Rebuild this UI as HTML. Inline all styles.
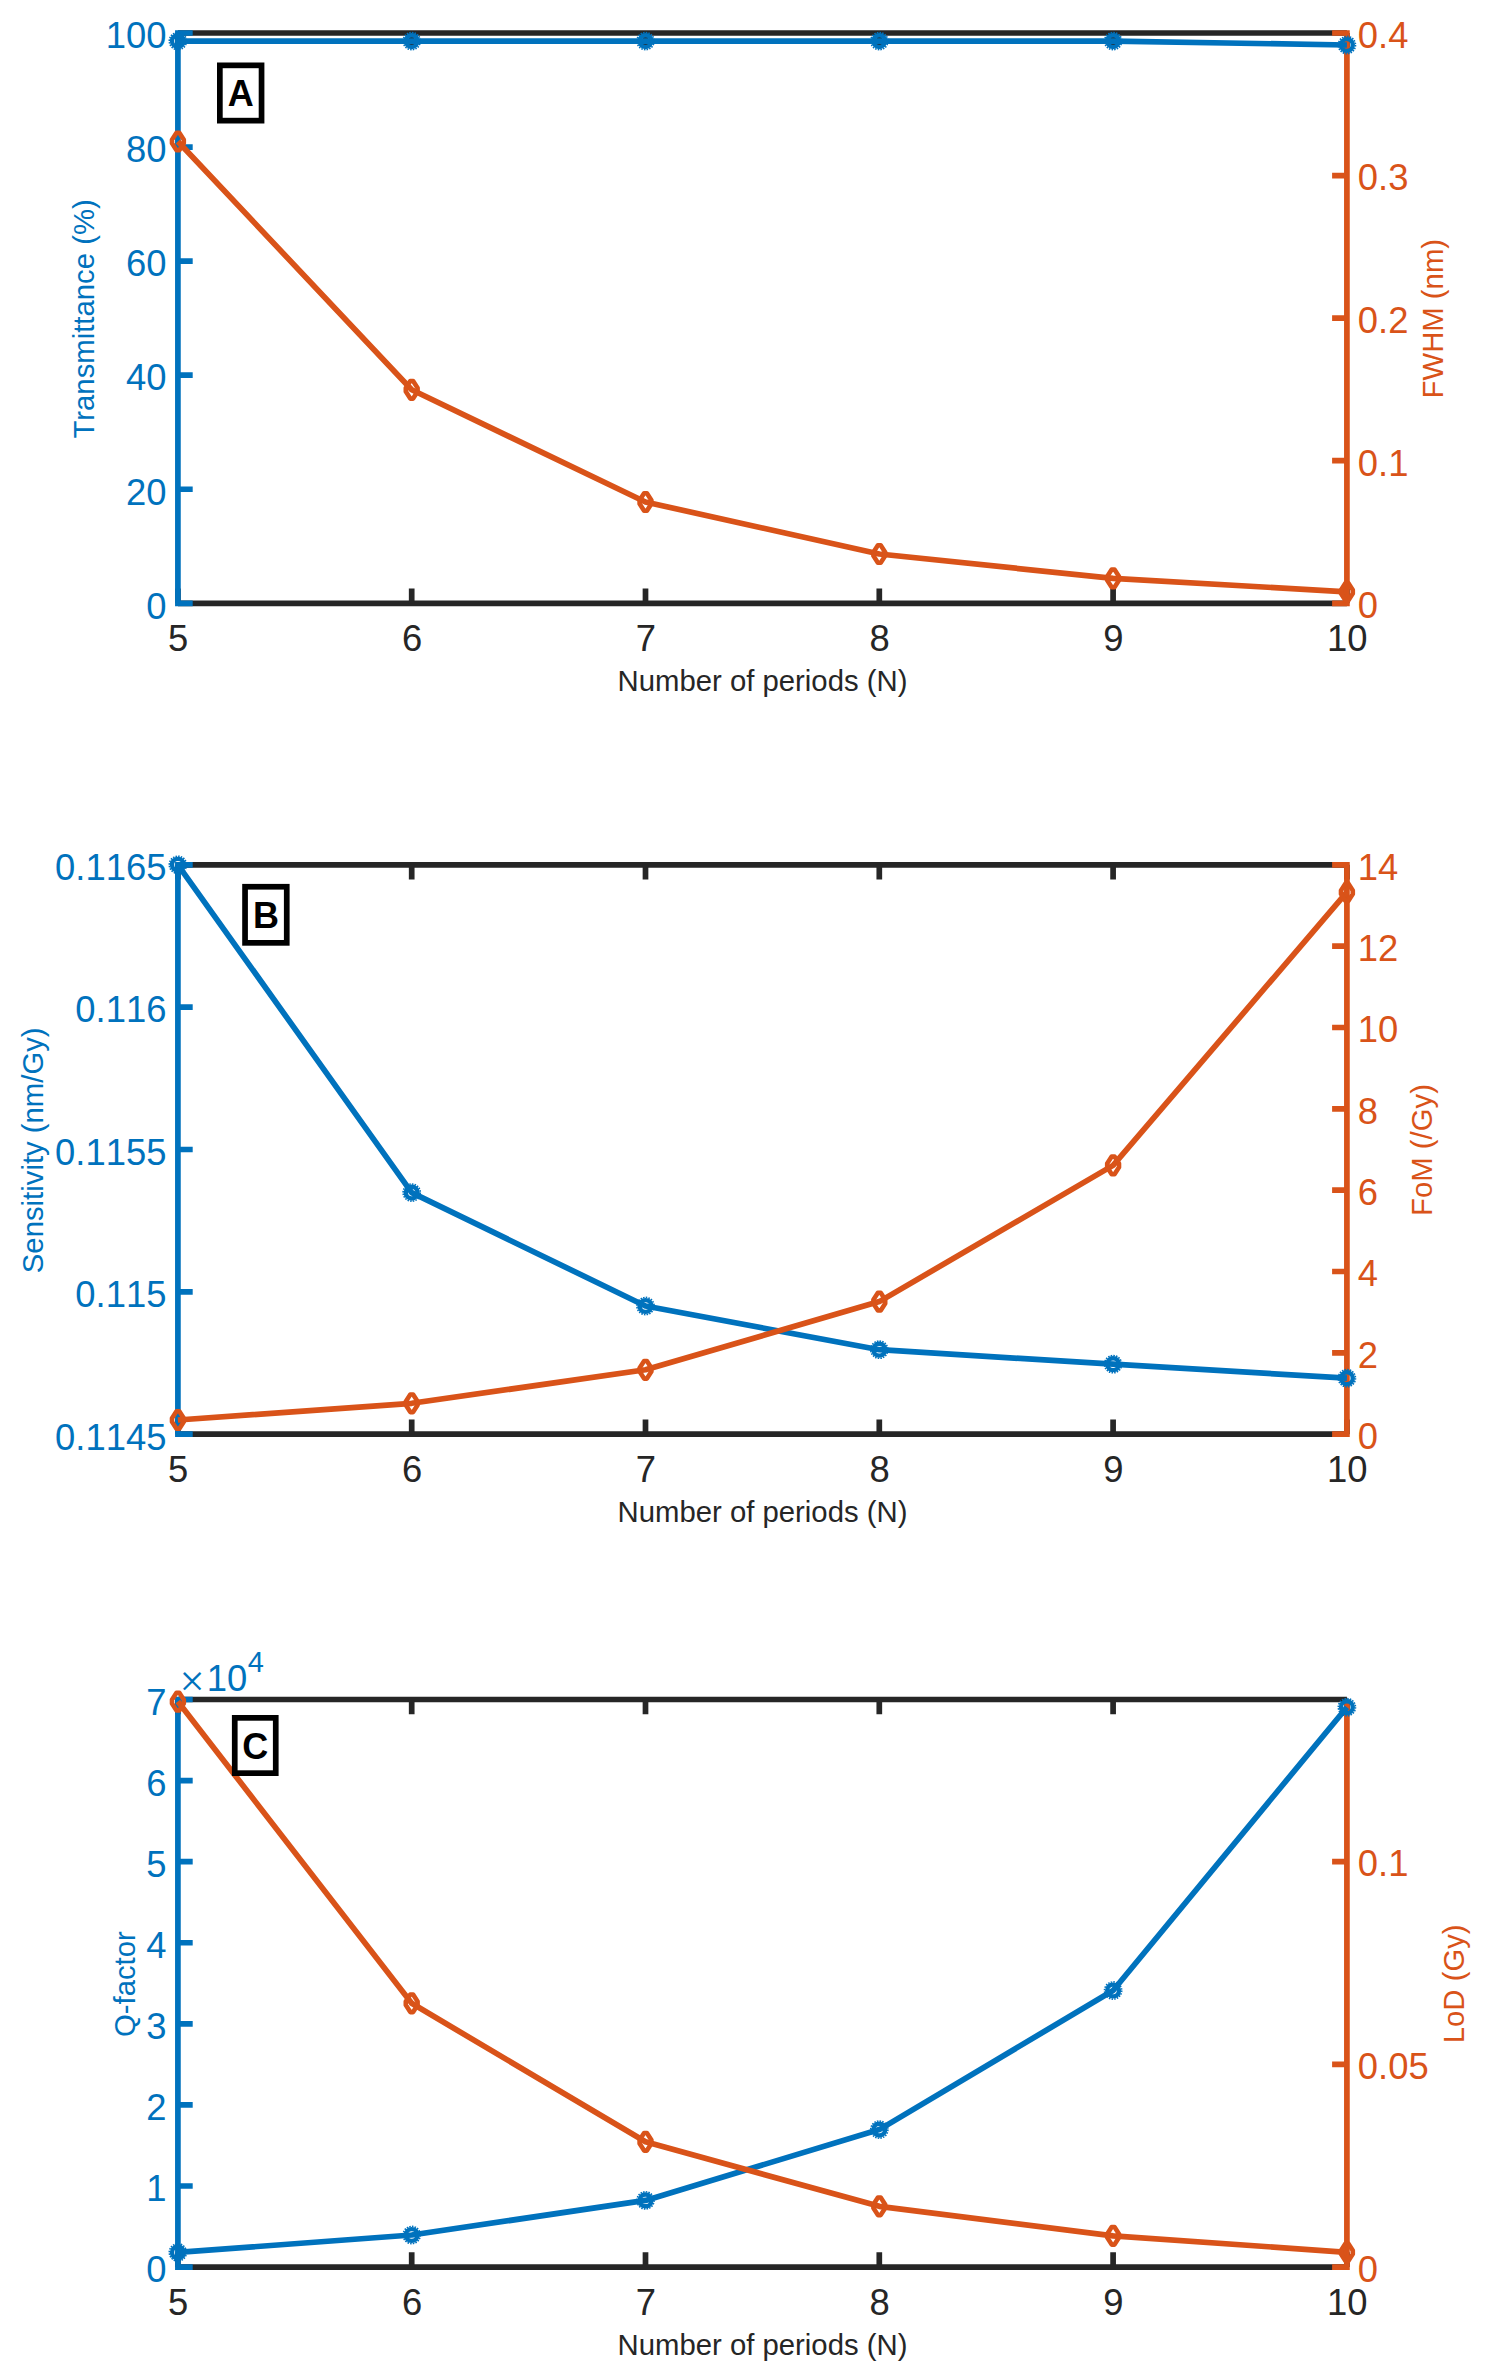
<!DOCTYPE html>
<html><head><meta charset="utf-8"><title>Figure</title>
<style>
html,body{margin:0;padding:0;background:#fff}
svg{display:block}
text{font-family:"Liberation Sans",Arial,Helvetica,sans-serif;font-kerning:none;font-variant-ligatures:none}
.tk{font-size:36.4px}
.lb{font-size:29.3px}
.bx{font-size:36px;font-weight:bold;fill:#000}
</style></head><body>
<svg width="1488" height="2362" viewBox="0 0 1488 2362">
<rect width="1488" height="2362" fill="#fff"/>
<g stroke="#262626" stroke-width="5.7" fill="none">
<path d="M177.9 33.0H1346.9M177.9 603.3H1346.9"/>
<path d="M177.9 603.3v-14.8M177.9 33.0v14.8M411.7 603.3v-14.8M411.7 33.0v14.8M645.5 603.3v-14.8M645.5 33.0v14.8M879.3 603.3v-14.8M879.3 33.0v14.8M1113.1 603.3v-14.8M1113.1 33.0v14.8M1346.9 603.3v-14.8M1346.9 33.0v14.8"/>
</g>
<path d="M177.9 30.15V606.15M177.9 603.3h14.8M177.9 489.24h14.8M177.9 375.18h14.8M177.9 261.12h14.8M177.9 147.06h14.8M177.9 33h14.8" stroke="#0072BD" stroke-width="5.7" fill="none"/>
<path d="M1346.9 30.15V606.15M1346.9 603.3h-14.8M1346.9 460.72h-14.8M1346.9 318.15h-14.8M1346.9 175.57h-14.8M1346.9 33h-14.8" stroke="#D95319" stroke-width="5.7" fill="none"/>
<g class="tk" fill="#0072BD" text-anchor="end">
<text x="166.4" y="618.6">0</text>
<text x="166.4" y="504.54">20</text>
<text x="166.4" y="390.48">40</text>
<text x="166.4" y="276.42">60</text>
<text x="166.4" y="162.36">80</text>
<text x="166.4" y="48.3">100</text>
</g>
<g class="tk" fill="#D95319">
<text x="1357.8" y="618.1">0</text>
<text x="1357.8" y="475.52">0.1</text>
<text x="1357.8" y="332.95">0.2</text>
<text x="1357.8" y="190.38">0.3</text>
<text x="1357.8" y="47.8">0.4</text>
</g>
<g class="tk" fill="#262626" text-anchor="middle">
<text x="178.2" y="651.3">5</text>
<text x="412" y="651.3">6</text>
<text x="645.8" y="651.3">7</text>
<text x="879.6" y="651.3">8</text>
<text x="1113.4" y="651.3">9</text>
<text x="1347.2" y="651.3">10</text>
</g>
<text class="lb" fill="#262626" text-anchor="middle" x="762.5" y="690.7">Number of periods (N)</text>
<text class="lb" fill="#0072BD" text-anchor="middle" transform="translate(94.4 318.95) rotate(-90)">Transmittance (%)</text>
<text class="lb" fill="#D95319" text-anchor="middle" transform="translate(1443 318.65) rotate(-90)">FWHM (nm)</text>
<path d="M177.9 41.1L411.7 41.1L645.5 41.1L879.3 41.1L1113.1 41.1L1346.9 45" stroke="#0072BD" stroke-width="5.7" fill="none" stroke-linejoin="round"/>
<circle cx="177.9" cy="41.1" r="5.9" fill="none" stroke="#0072BD" stroke-width="4.4"/><circle cx="177.9" cy="41.1" r="8.6" fill="none" stroke="#0072BD" stroke-width="1.6" stroke-dasharray="1.55 1.15"/>
<circle cx="411.7" cy="41.1" r="5.9" fill="none" stroke="#0072BD" stroke-width="4.4"/><circle cx="411.7" cy="41.1" r="8.6" fill="none" stroke="#0072BD" stroke-width="1.6" stroke-dasharray="1.55 1.15"/>
<circle cx="645.5" cy="41.1" r="5.9" fill="none" stroke="#0072BD" stroke-width="4.4"/><circle cx="645.5" cy="41.1" r="8.6" fill="none" stroke="#0072BD" stroke-width="1.6" stroke-dasharray="1.55 1.15"/>
<circle cx="879.3" cy="41.1" r="5.9" fill="none" stroke="#0072BD" stroke-width="4.4"/><circle cx="879.3" cy="41.1" r="8.6" fill="none" stroke="#0072BD" stroke-width="1.6" stroke-dasharray="1.55 1.15"/>
<circle cx="1113.1" cy="41.1" r="5.9" fill="none" stroke="#0072BD" stroke-width="4.4"/><circle cx="1113.1" cy="41.1" r="8.6" fill="none" stroke="#0072BD" stroke-width="1.6" stroke-dasharray="1.55 1.15"/>
<circle cx="1346.9" cy="45" r="5.9" fill="none" stroke="#0072BD" stroke-width="4.4"/><circle cx="1346.9" cy="45" r="8.6" fill="none" stroke="#0072BD" stroke-width="1.6" stroke-dasharray="1.55 1.15"/>
<path d="M177.9 141.5L411.7 389.8L645.5 502L879.3 554L1113.1 578.4L1346.9 591.8" stroke="#D95319" stroke-width="5.7" fill="none" stroke-linejoin="round"/>
<path d="M176.5 132.7L179.3 132.7L183.8 139.7L183.8 143.3L179.3 150.3L176.5 150.3L172 143.3L172 139.7Z" fill="none" stroke="#D95319" stroke-width="4.6" stroke-linejoin="round"/>
<path d="M410.3 381L413.1 381L417.6 388L417.6 391.6L413.1 398.6L410.3 398.6L405.8 391.6L405.8 388Z" fill="none" stroke="#D95319" stroke-width="4.6" stroke-linejoin="round"/>
<path d="M644.1 493.2L646.9 493.2L651.4 500.2L651.4 503.8L646.9 510.8L644.1 510.8L639.6 503.8L639.6 500.2Z" fill="none" stroke="#D95319" stroke-width="4.6" stroke-linejoin="round"/>
<path d="M877.9 545.2L880.7 545.2L885.2 552.2L885.2 555.8L880.7 562.8L877.9 562.8L873.4 555.8L873.4 552.2Z" fill="none" stroke="#D95319" stroke-width="4.6" stroke-linejoin="round"/>
<path d="M1111.7 569.6L1114.5 569.6L1119 576.6L1119 580.2L1114.5 587.2L1111.7 587.2L1107.2 580.2L1107.2 576.6Z" fill="none" stroke="#D95319" stroke-width="4.6" stroke-linejoin="round"/>
<path d="M1345.5 583L1348.3 583L1352.8 590L1352.8 593.6L1348.3 600.6L1345.5 600.6L1341 593.6L1341 590Z" fill="none" stroke="#D95319" stroke-width="4.6" stroke-linejoin="round"/>
<rect x="219.85" y="65.35" width="41.7" height="55.3" fill="#fff" stroke="#000" stroke-width="5.7"/>
<text class="bx" text-anchor="middle" x="240.7" y="106.4">A</text>
<g stroke="#262626" stroke-width="5.7" fill="none">
<path d="M177.9 864.8H1346.9M177.9 1434.2H1346.9"/>
<path d="M177.9 1434.2v-14.8M177.9 864.8v14.8M411.7 1434.2v-14.8M411.7 864.8v14.8M645.5 1434.2v-14.8M645.5 864.8v14.8M879.3 1434.2v-14.8M879.3 864.8v14.8M1113.1 1434.2v-14.8M1113.1 864.8v14.8M1346.9 1434.2v-14.8M1346.9 864.8v14.8"/>
</g>
<path d="M177.9 861.95V1437.05M177.9 1434.2h14.8M177.9 1291.85h14.8M177.9 1149.5h14.8M177.9 1007.15h14.8M177.9 864.8h14.8" stroke="#0072BD" stroke-width="5.7" fill="none"/>
<path d="M1346.9 861.95V1437.05M1346.9 1434.2h-14.8M1346.9 1352.86h-14.8M1346.9 1271.51h-14.8M1346.9 1190.17h-14.8M1346.9 1108.83h-14.8M1346.9 1027.49h-14.8M1346.9 946.14h-14.8M1346.9 864.8h-14.8" stroke="#D95319" stroke-width="5.7" fill="none"/>
<g class="tk" fill="#0072BD" text-anchor="end">
<text x="166.4" y="1449.5">0.1145</text>
<text x="166.4" y="1307.15">0.115</text>
<text x="166.4" y="1164.8">0.1155</text>
<text x="166.4" y="1022.45">0.116</text>
<text x="166.4" y="880.1">0.1165</text>
</g>
<g class="tk" fill="#D95319">
<text x="1357.8" y="1449">0</text>
<text x="1357.8" y="1367.66">2</text>
<text x="1357.8" y="1286.31">4</text>
<text x="1357.8" y="1204.97">6</text>
<text x="1357.8" y="1123.63">8</text>
<text x="1357.8" y="1042.29">10</text>
<text x="1357.8" y="960.94">12</text>
<text x="1357.8" y="879.6">14</text>
</g>
<g class="tk" fill="#262626" text-anchor="middle">
<text x="178.2" y="1482.2">5</text>
<text x="412" y="1482.2">6</text>
<text x="645.8" y="1482.2">7</text>
<text x="879.6" y="1482.2">8</text>
<text x="1113.4" y="1482.2">9</text>
<text x="1347.2" y="1482.2">10</text>
</g>
<text class="lb" fill="#262626" text-anchor="middle" x="762.5" y="1521.6">Number of periods (N)</text>
<text class="lb" fill="#0072BD" text-anchor="middle" transform="translate(43.2 1150.3) rotate(-90)">Sensitivity (nm/Gy)</text>
<text class="lb" fill="#D95319" text-anchor="middle" transform="translate(1432 1150) rotate(-90)">FoM (/Gy)</text>
<path d="M177.9 864.8L411.7 1192.6L645.5 1306L879.3 1349.7L1113.1 1364.2L1346.9 1378.2" stroke="#0072BD" stroke-width="5.7" fill="none" stroke-linejoin="round"/>
<circle cx="177.9" cy="864.8" r="5.9" fill="none" stroke="#0072BD" stroke-width="4.4"/><circle cx="177.9" cy="864.8" r="8.6" fill="none" stroke="#0072BD" stroke-width="1.6" stroke-dasharray="1.55 1.15"/>
<circle cx="411.7" cy="1192.6" r="5.9" fill="none" stroke="#0072BD" stroke-width="4.4"/><circle cx="411.7" cy="1192.6" r="8.6" fill="none" stroke="#0072BD" stroke-width="1.6" stroke-dasharray="1.55 1.15"/>
<circle cx="645.5" cy="1306" r="5.9" fill="none" stroke="#0072BD" stroke-width="4.4"/><circle cx="645.5" cy="1306" r="8.6" fill="none" stroke="#0072BD" stroke-width="1.6" stroke-dasharray="1.55 1.15"/>
<circle cx="879.3" cy="1349.7" r="5.9" fill="none" stroke="#0072BD" stroke-width="4.4"/><circle cx="879.3" cy="1349.7" r="8.6" fill="none" stroke="#0072BD" stroke-width="1.6" stroke-dasharray="1.55 1.15"/>
<circle cx="1113.1" cy="1364.2" r="5.9" fill="none" stroke="#0072BD" stroke-width="4.4"/><circle cx="1113.1" cy="1364.2" r="8.6" fill="none" stroke="#0072BD" stroke-width="1.6" stroke-dasharray="1.55 1.15"/>
<circle cx="1346.9" cy="1378.2" r="5.9" fill="none" stroke="#0072BD" stroke-width="4.4"/><circle cx="1346.9" cy="1378.2" r="8.6" fill="none" stroke="#0072BD" stroke-width="1.6" stroke-dasharray="1.55 1.15"/>
<path d="M177.9 1420L411.7 1403.3L645.5 1369.8L879.3 1301.6L1113.1 1165.4L1346.9 892.2" stroke="#D95319" stroke-width="5.7" fill="none" stroke-linejoin="round"/>
<path d="M176.5 1411.2L179.3 1411.2L183.8 1418.2L183.8 1421.8L179.3 1428.8L176.5 1428.8L172 1421.8L172 1418.2Z" fill="none" stroke="#D95319" stroke-width="4.6" stroke-linejoin="round"/>
<path d="M410.3 1394.5L413.1 1394.5L417.6 1401.5L417.6 1405.1L413.1 1412.1L410.3 1412.1L405.8 1405.1L405.8 1401.5Z" fill="none" stroke="#D95319" stroke-width="4.6" stroke-linejoin="round"/>
<path d="M644.1 1361L646.9 1361L651.4 1368L651.4 1371.6L646.9 1378.6L644.1 1378.6L639.6 1371.6L639.6 1368Z" fill="none" stroke="#D95319" stroke-width="4.6" stroke-linejoin="round"/>
<path d="M877.9 1292.8L880.7 1292.8L885.2 1299.8L885.2 1303.4L880.7 1310.4L877.9 1310.4L873.4 1303.4L873.4 1299.8Z" fill="none" stroke="#D95319" stroke-width="4.6" stroke-linejoin="round"/>
<path d="M1111.7 1156.6L1114.5 1156.6L1119 1163.6L1119 1167.2L1114.5 1174.2L1111.7 1174.2L1107.2 1167.2L1107.2 1163.6Z" fill="none" stroke="#D95319" stroke-width="4.6" stroke-linejoin="round"/>
<path d="M1345.5 883.4L1348.3 883.4L1352.8 890.4L1352.8 894L1348.3 901L1345.5 901L1341 894L1341 890.4Z" fill="none" stroke="#D95319" stroke-width="4.6" stroke-linejoin="round"/>
<rect x="245.05" y="886.75" width="41.7" height="56.1" fill="#fff" stroke="#000" stroke-width="5.7"/>
<text class="bx" text-anchor="middle" x="265.9" y="928.2">B</text>
<g stroke="#262626" stroke-width="5.7" fill="none">
<path d="M177.9 1699.5H1346.9M177.9 2267.1H1346.9"/>
<path d="M177.9 2267.1v-14.8M177.9 1699.5v14.8M411.7 2267.1v-14.8M411.7 1699.5v14.8M645.5 2267.1v-14.8M645.5 1699.5v14.8M879.3 2267.1v-14.8M879.3 1699.5v14.8M1113.1 2267.1v-14.8M1113.1 1699.5v14.8M1346.9 2267.1v-14.8M1346.9 1699.5v14.8"/>
</g>
<path d="M177.9 1696.65V2269.95M177.9 2267.1h14.8M177.9 2186.01h14.8M177.9 2104.93h14.8M177.9 2023.84h14.8M177.9 1942.76h14.8M177.9 1861.67h14.8M177.9 1780.59h14.8M177.9 1699.5h14.8" stroke="#0072BD" stroke-width="5.7" fill="none"/>
<path d="M1346.9 1702.35V2269.95M1346.9 2267.1h-14.8M1346.9 2064.39h-14.8M1346.9 1861.67h-14.8" stroke="#D95319" stroke-width="5.7" fill="none"/>
<g class="tk" fill="#0072BD" text-anchor="end">
<text x="166.4" y="2282.4">0</text>
<text x="166.4" y="2201.31">1</text>
<text x="166.4" y="2120.23">2</text>
<text x="166.4" y="2039.14">3</text>
<text x="166.4" y="1958.06">4</text>
<text x="166.4" y="1876.97">5</text>
<text x="166.4" y="1795.89">6</text>
<text x="166.4" y="1714.8">7</text>
</g>
<g class="tk" fill="#D95319">
<text x="1357.8" y="2281.9">0</text>
<text x="1357.8" y="2079.19">0.05</text>
<text x="1357.8" y="1876.47">0.1</text>
</g>
<g class="tk" fill="#262626" text-anchor="middle">
<text x="178.2" y="2315.1">5</text>
<text x="412" y="2315.1">6</text>
<text x="645.8" y="2315.1">7</text>
<text x="879.6" y="2315.1">8</text>
<text x="1113.4" y="2315.1">9</text>
<text x="1347.2" y="2315.1">10</text>
</g>
<text class="lb" fill="#262626" text-anchor="middle" x="762.5" y="2354.5">Number of periods (N)</text>
<text class="lb" fill="#0072BD" text-anchor="middle" transform="translate(134.8 1984.1) rotate(-90)">Q-factor</text>
<text class="lb" fill="#D95319" text-anchor="middle" transform="translate(1464 1983.8) rotate(-90)">LoD (Gy)</text>
<text class="tk" fill="#0072BD"><tspan x="179.6" y="1695.8" font-family="Liberation Serif, serif" font-size="44.5">×</tspan><tspan x="206.8" y="1690.6">10</tspan><tspan x="247.7" y="1672.2" font-size="29">4</tspan></text>
<path d="M177.9 2252.4L411.7 2235L645.5 2200.4L879.3 2129.6L1113.1 1990.5L1346.9 1707.2" stroke="#0072BD" stroke-width="5.7" fill="none" stroke-linejoin="round"/>
<circle cx="177.9" cy="2252.4" r="5.9" fill="none" stroke="#0072BD" stroke-width="4.4"/><circle cx="177.9" cy="2252.4" r="8.6" fill="none" stroke="#0072BD" stroke-width="1.6" stroke-dasharray="1.55 1.15"/>
<circle cx="411.7" cy="2235" r="5.9" fill="none" stroke="#0072BD" stroke-width="4.4"/><circle cx="411.7" cy="2235" r="8.6" fill="none" stroke="#0072BD" stroke-width="1.6" stroke-dasharray="1.55 1.15"/>
<circle cx="645.5" cy="2200.4" r="5.9" fill="none" stroke="#0072BD" stroke-width="4.4"/><circle cx="645.5" cy="2200.4" r="8.6" fill="none" stroke="#0072BD" stroke-width="1.6" stroke-dasharray="1.55 1.15"/>
<circle cx="879.3" cy="2129.6" r="5.9" fill="none" stroke="#0072BD" stroke-width="4.4"/><circle cx="879.3" cy="2129.6" r="8.6" fill="none" stroke="#0072BD" stroke-width="1.6" stroke-dasharray="1.55 1.15"/>
<circle cx="1113.1" cy="1990.5" r="5.9" fill="none" stroke="#0072BD" stroke-width="4.4"/><circle cx="1113.1" cy="1990.5" r="8.6" fill="none" stroke="#0072BD" stroke-width="1.6" stroke-dasharray="1.55 1.15"/>
<circle cx="1346.9" cy="1707.2" r="5.9" fill="none" stroke="#0072BD" stroke-width="4.4"/><circle cx="1346.9" cy="1707.2" r="8.6" fill="none" stroke="#0072BD" stroke-width="1.6" stroke-dasharray="1.55 1.15"/>
<path d="M177.9 1701.6L411.7 2003.3L645.5 2141.8L879.3 2206.3L1113.1 2235.8L1346.9 2252.3" stroke="#D95319" stroke-width="5.7" fill="none" stroke-linejoin="round"/>
<path d="M176.5 1692.8L179.3 1692.8L183.8 1699.8L183.8 1703.4L179.3 1710.4L176.5 1710.4L172 1703.4L172 1699.8Z" fill="none" stroke="#D95319" stroke-width="4.6" stroke-linejoin="round"/>
<path d="M410.3 1994.5L413.1 1994.5L417.6 2001.5L417.6 2005.1L413.1 2012.1L410.3 2012.1L405.8 2005.1L405.8 2001.5Z" fill="none" stroke="#D95319" stroke-width="4.6" stroke-linejoin="round"/>
<path d="M644.1 2133L646.9 2133L651.4 2140L651.4 2143.6L646.9 2150.6L644.1 2150.6L639.6 2143.6L639.6 2140Z" fill="none" stroke="#D95319" stroke-width="4.6" stroke-linejoin="round"/>
<path d="M877.9 2197.5L880.7 2197.5L885.2 2204.5L885.2 2208.1L880.7 2215.1L877.9 2215.1L873.4 2208.1L873.4 2204.5Z" fill="none" stroke="#D95319" stroke-width="4.6" stroke-linejoin="round"/>
<path d="M1111.7 2227L1114.5 2227L1119 2234L1119 2237.6L1114.5 2244.6L1111.7 2244.6L1107.2 2237.6L1107.2 2234Z" fill="none" stroke="#D95319" stroke-width="4.6" stroke-linejoin="round"/>
<path d="M1345.5 2243.5L1348.3 2243.5L1352.8 2250.5L1352.8 2254.1L1348.3 2261.1L1345.5 2261.1L1341 2254.1L1341 2250.5Z" fill="none" stroke="#D95319" stroke-width="4.6" stroke-linejoin="round"/>
<rect x="234.75" y="1717.85" width="41" height="55.3" fill="#fff" stroke="#000" stroke-width="5.7"/>
<text class="bx" text-anchor="middle" x="255.25" y="1758.9">C</text>
</svg>
</body></html>
